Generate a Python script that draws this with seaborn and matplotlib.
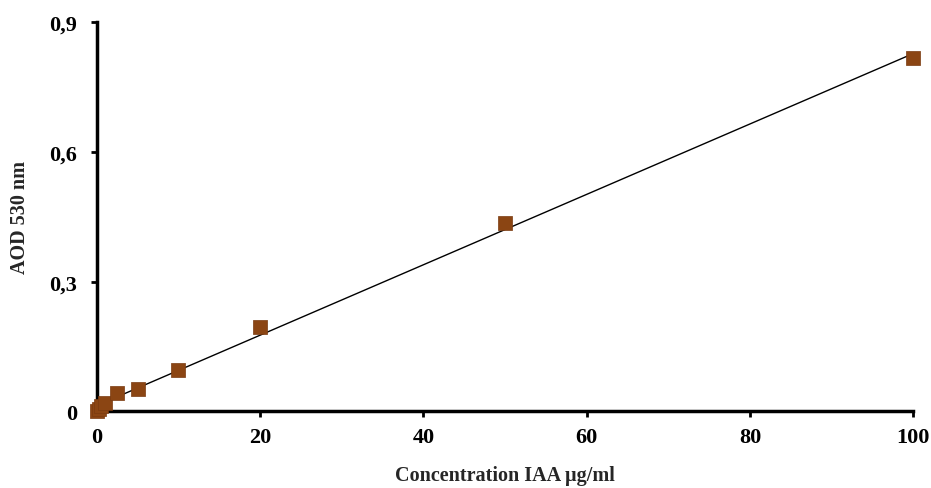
import numpy as np
import pandas as pd
import seaborn as sns
import matplotlib.pyplot as plt
from matplotlib.ticker import FuncFormatter

# data
konsentrasi = [0, 0.25, 0.5, 1, 2.5, 5, 10, 20, 50, 100]
absorbansi = [0.0, 0.005, 0.012, 0.02, 0.042, 0.052, 0.095, 0.195, 0.435, 0.817]
y_ticks = [0, 0.3, 0.6, 0.9]
x_ticks = [0, 20, 40, 60, 80, 100]

df = pd.DataFrame({'x': konsentrasi, 'y': absorbansi})

sns.set_style("ticks")
plt.rcParams['font.family'] = ['Liberation Serif', 'DejaVu Serif']
plt.rcParams['font.weight'] = 'bold'

fig = plt.figure(figsize=(9.31, 4.89), dpi=100)
ax = fig.add_axes([0.104, 0.157, 0.877, 0.795])

# garis tren linear
sns.regplot(data=df, x='x', y='y', ax=ax, ci=None, scatter=False,
            line_kws={'color': 'black', 'linewidth': 1.0})
# titik data
sns.scatterplot(data=df, x='x', y='y', ax=ax, marker='s', s=100,
                color='#8B4513', edgecolor='#7a3a10', linewidth=0.5, zorder=3)

ax.set_xlim(0, 100)
ax.set_ylim(0, 0.9)
ax.set_xticks(x_ticks)
ax.set_yticks(y_ticks)
ax.yaxis.set_major_formatter(FuncFormatter(lambda v, p: '0' if v == 0 else f'{v:.1f}'.replace('.', ',')))

for s in ['top', 'right']:
    ax.spines[s].set_visible(False)
for s in ['left', 'bottom']:
    ax.spines[s].set_linewidth(2.5)
    ax.spines[s].set_color('black')

ax.tick_params(axis='both', direction='out', length=4, width=2, colors='black',
               labelsize=16)
ax.tick_params(axis='x', pad=7)
ax.tick_params(axis='y', pad=10)
for lbl in ax.get_xticklabels() + ax.get_yticklabels():
    lbl.set_fontweight('bold')

ax.set_xlabel('Concentration IAA µg/ml', fontsize=14.5, fontweight='bold', labelpad=13)
ax.set_ylabel('AOD 530 nm', fontsize=14.5, fontweight='bold', labelpad=14)
for c in ax.collections:
    c.set_clip_on(False)

fig.savefig('out.png', dpi=100)
